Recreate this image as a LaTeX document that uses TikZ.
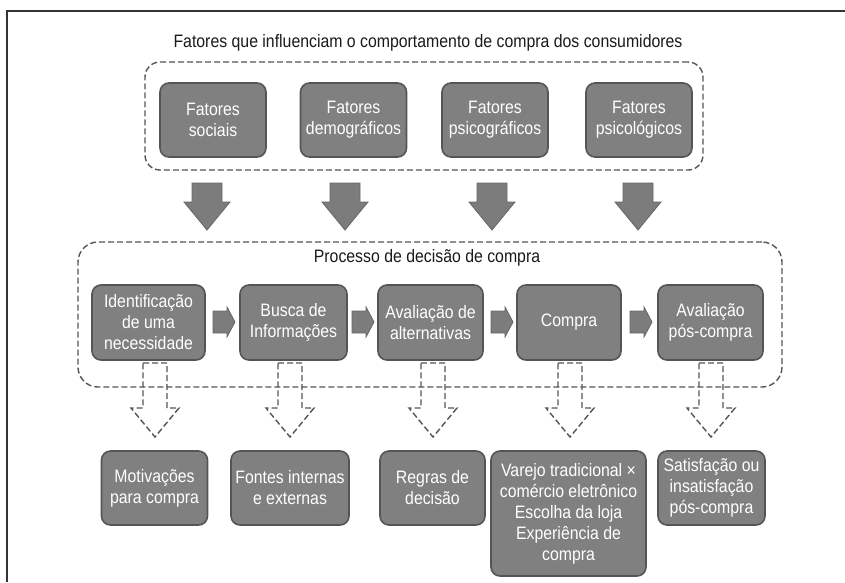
\documentclass[tikz,border=0pt]{standalone}
\usepackage{fontspec}
\setmainfont{Liberation Sans}[FakeStretch=0.88]
\definecolor{boxfill}{HTML}{808080}
\definecolor{boxedge}{HTML}{555555}
\definecolor{arrfill}{HTML}{7C7C7C}
\definecolor{arredge}{HTML}{666666}
\definecolor{dashc}{HTML}{555555}
\definecolor{txt}{HTML}{1A1A1A}
\definecolor{framec}{HTML}{333333}
\tikzset{
  gbox/.style={draw=boxedge, fill=boxfill, line width=1.6pt, rounded corners=9pt,
    text=white, align=center, inner sep=0pt, font=\fontsize{18}{21}\selectfont},
  grpbox/.style={draw=dashc, dash pattern=on 6pt off 3pt, line width=1.4pt, inner sep=0pt},
  ttl/.style={text=txt, inner sep=0pt, font=\fontsize{18}{21}\selectfont},
  pics/sdown/.style={code={
    \filldraw[fill=arrfill, draw=arredge, line width=0.8pt, line join=miter]
      (-15,0) -- (15,0) -- (15,19) -- (23,19) -- (0,47) -- (-23,19) -- (-15,19) -- cycle;}},
  pics/sright/.style={code={
    \filldraw[fill=arrfill, draw=arredge, line width=0.8pt, line join=miter]
      (0,-11) -- (14,-11) -- (14,-15) -- (22,0) -- (14,15) -- (14,11) -- (0,11) -- cycle;}},
  pics/hdown/.style={code={
    \draw[draw=dashc, dash pattern=on 6pt off 3pt, line width=1.4pt, line join=miter]
      (-12,0) -- (12,0) -- (12,45) -- (24,45) -- (0,74) -- (-24,45) -- (-12,45) -- cycle;}}
}
\begin{document}
\begin{tikzpicture}[x=1pt,y=-1pt]
\useasboundingbox (0,0) rectangle (845,582);
\fill[white] (0,0) rectangle (845,582);
% frame (cut off at right and bottom)
\draw[framec, line width=2pt] (7,582) -- (7,11) -- (845,11);

% titles
\node[ttl] (title1) at (428,43) {Fatores que influenciam o comportamento de compra dos consumidores};

% group boxes
\node[grpbox, rounded corners=15pt, minimum width=558, minimum height=108] (grp1) at (424,116) {};
\node[grpbox, rounded corners=20pt, minimum width=704, minimum height=145] (grp2) at (430,314.5) {};
\node[ttl] (title2) at (427,258) {Processo de decisão de compra};

% top row
\node[gbox, minimum width=106, minimum height=74] (t1) at (213,120) {Fatores\\sociais};
\node[gbox, minimum width=106, minimum height=74] (t2) at (353.5,120) {Fatores\\demográficos};
\node[gbox, minimum width=106, minimum height=74] (t3) at (495,120) {Fatores\\psicográficos};
\node[gbox, minimum width=106, minimum height=74] (t4) at (639,120) {Fatores\\psicológicos};

% solid down arrows
\pic at (207,183) {sdown};
\pic at (345,183) {sdown};
\pic at (492,183) {sdown};
\pic at (638,183) {sdown};

% middle row
\node[gbox, minimum width=113, minimum height=75] (m1) at (148.5,322.5) {Identificação\\de uma\\necessidade};
\node[gbox, minimum width=107, minimum height=75] (m2) at (293.5,322.5) {Busca de\\Informações};
\node[gbox, minimum width=105, minimum height=75] (m3) at (430.5,322.5) {Avaliação de\\alternativas};
\node[gbox, minimum width=104, minimum height=75] (m4) at (569,322.5) {Compra};
\node[gbox, minimum width=105, minimum height=75] (m5) at (710.5,322.5) {Avaliação\\pós-compra};

% right arrows between steps
\pic at (213,322) {sright};
\pic at (352,322) {sright};
\pic at (491,322) {sright};
\pic at (630,322) {sright};

% hollow dashed down arrows
\pic at (155,363) {hdown};
\pic at (290,363) {hdown};
\pic at (433,363) {hdown};
\pic at (570,363) {hdown};
\pic at (711,363) {hdown};

% bottom row
\node[gbox, minimum width=106, minimum height=74] (b1) at (154.5,488) {Motivações\\para compra};
\node[gbox, minimum width=118, minimum height=74] (b2) at (290,488) {Fontes internas\\e externas};
\node[gbox, minimum width=105, minimum height=74] (b3) at (432.5,488) {Regras de\\decisão};
\node[gbox, minimum width=155, minimum height=125] (b4) at (568.5,513.5) {Varejo tradicional ×\\comércio eletrônico\\Escolha da loja\\Experiência de\\compra};
\node[gbox, minimum width=107, minimum height=74] (b5) at (711.5,488) {Satisfação ou\\insatisfação\\pós-compra};
\end{tikzpicture}
\end{document}
